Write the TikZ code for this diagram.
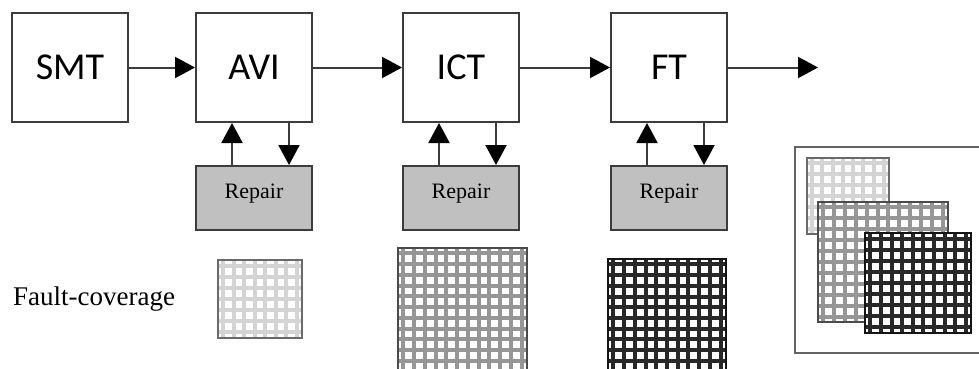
\documentclass[tikz,border=0pt]{standalone}
\usepackage{fontspec}
\setmainfont{Liberation Serif}
\newfontfamily\stagefont{Carlito}
\definecolor{edgegray}{RGB}{60, 60, 60}
\definecolor{repairgray}{RGB}{192, 192, 192}
\definecolor{gridlight}{RGB}{212, 212, 212}
\definecolor{gridmid}{RGB}{150, 150, 150}
\definecolor{griddark}{RGB}{40, 40, 40}
\usetikzlibrary{arrows.meta, positioning}

\tikzset{
  stage/.style={draw=edgegray, line width=2pt, fill=white, minimum width=116pt, minimum height=109pt, inner sep=0pt, font=\stagefont\fontsize{38}{40}\selectfont},
  repairbox/.style={draw=edgegray, line width=2pt, fill=repairgray, minimum width=116pt, minimum height=64pt, inner sep=0pt, text height=10pt, text depth=10pt, font=\fontsize{22}{24}\selectfont},
  flow/.style={draw=edgegray, line width=2pt, -{Triangle[length=20pt, width=21pt, color=black]}}
}

% one coverage grid: x0, y0, x1, y1, columns, rows, colour
\newcommand{\fcgrid}[7]{%
  \fill[white] (#1,#2) rectangle (#3,#4);
  \foreach \k in {1,...,#5}{\draw[#7, line width=4pt] ({#1+(#3-#1)*(\k-0.5)/#5},#2) -- ({#1+(#3-#1)*(\k-0.5)/#5},#4);}
  \foreach \k in {1,...,#6}{\draw[#7, line width=4pt] (#1,{#2+(#4-#2)*(\k-0.5)/#6}) -- (#3,{#2+(#4-#2)*(\k-0.5)/#6});}
  \draw[#7!50!black, line width=2pt] (#1,#2) rectangle (#3,#4);
}

\begin{document}
\begin{tikzpicture}[x=1pt, y=-1pt]
  \clip (0,0) rectangle (979,369);

  % Stages
  \node[stage] (smt) at (70,67.5) {SMT};
  \node[stage] (avi) at (254,67.5) {AVI};
  \node[stage] (ict) at (461,67.5) {ICT};
  \node[stage] (ft) at (669,67.5) {FT};
  \coordinate (out) at (818,67.5);

  % Repair loops
  \node[repairbox] (avirep) at (254,198) {Repair};
  \node[repairbox] (ictrep) at (461,198) {Repair};
  \node[repairbox] (ftrep) at (669,198) {Repair};

  \draw[flow] (smt) -- (avi);
  \draw[flow] (avi) -- (ict);
  \draw[flow] (ict) -- (ft);
  \draw[flow] (ft) -- (out);

  \foreach \s in {avi, ict, ft}{
    \draw[flow] ([xshift=-22pt]\s rep.north) -- ([xshift=-22pt]\s.south);
    \draw[flow] ([xshift=35pt]\s.south) -- ([xshift=35pt]\s rep.north);
  }

  % Fault coverage
  \node[anchor=base west, inner sep=0pt, font=\fontsize{27}{29}\selectfont] (fclabel) at (13,305) {Fault-coverage};
  \fcgrid{218}{260}{302}{338}{8}{7}{gridlight}
  \fcgrid{398}{248}{527}{377}{12}{12}{gridmid}
  \fcgrid{608}{259}{726}{377}{11}{11}{griddark}

  % Overlap panel
  \draw[edgegray!80, line width=2.4pt] (795,147) rectangle (990,353);
  \fcgrid{807}{158}{889}{234}{8}{7}{gridlight}
  \fcgrid{818}{202}{948}{322}{12}{11}{gridmid}
  \fcgrid{865}{233}{971}{333}{10}{9}{griddark}
\end{tikzpicture}
\end{document}
